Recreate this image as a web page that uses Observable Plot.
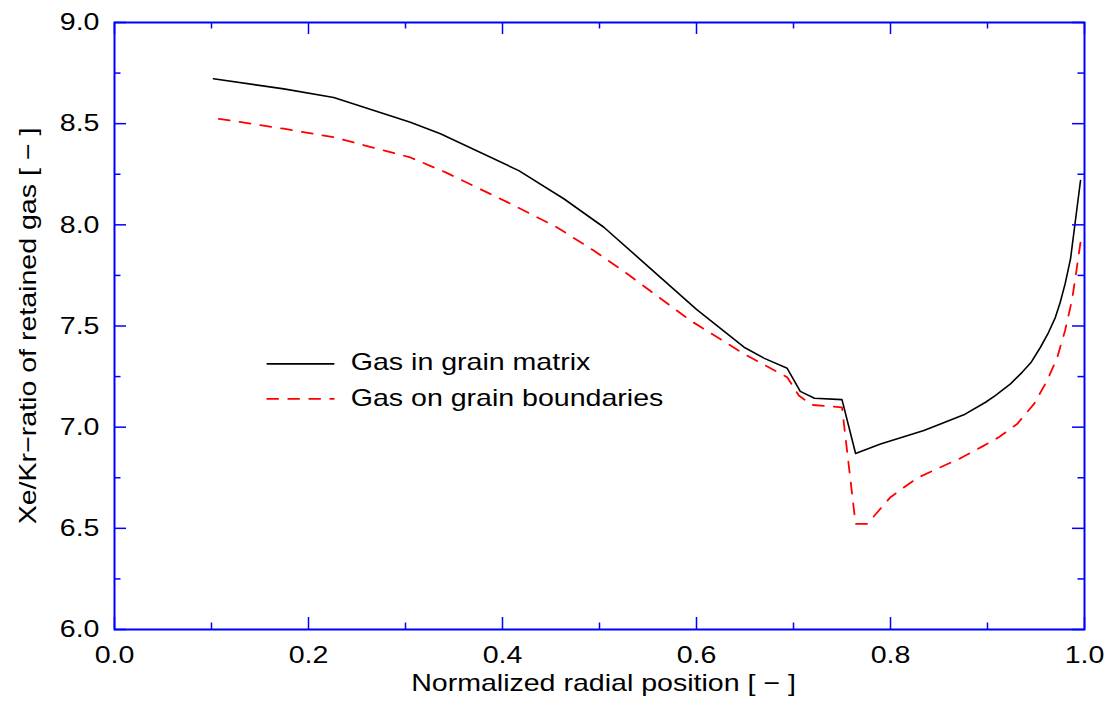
<!DOCTYPE html>
<html><head><meta charset="utf-8">
<script src="https://cdn.jsdelivr.net/npm/d3@7"></script>
<script src="https://cdn.jsdelivr.net/npm/@observablehq/plot@0.6"></script>
<style>html,body{margin:0;padding:0;background:#fff;} #chart{width:1111px;height:709px;}</style>
</head><body><div id="chart"></div>
<script>
// Data: gas in grain matrix (black solid)
const matrixX = [0.102, 0.1745, 0.226, 0.305, 0.336, 0.4168, 0.4632, 0.5045, 0.55, 0.60, 0.649, 0.67, 0.6935, 0.707, 0.7216, 0.750, 0.764, 0.7897, 0.8344, 0.8515, 0.8756, 0.898, 0.908, 0.9237, 0.9357, 0.9446, 0.9546, 0.963, 0.970, 0.975, 0.980, 0.9856, 0.9959];
const matrixY = [8.722, 8.672, 8.629, 8.507, 8.450, 8.268, 8.129, 7.988, 7.795, 7.582, 7.395, 7.340, 7.291, 7.177, 7.143, 7.136, 6.870, 6.917, 6.983, 7.016, 7.061, 7.123, 7.156, 7.214, 7.271, 7.318, 7.395, 7.469, 7.543, 7.617, 7.708, 7.832, 8.219];
// Data: gas on grain boundaries (red dashed)
const boundaryX = [0.1075, 0.1745, 0.226, 0.305, 0.342, 0.405, 0.456, 0.494, 0.5285, 0.5938, 0.649, 0.6935, 0.7055, 0.719, 0.750, 0.764, 0.776, 0.800, 0.8103, 0.8275, 0.8515, 0.872, 0.893, 0.9116, 0.9306, 0.948, 0.9615, 0.972, 0.980, 0.987, 0.9907, 0.9959];
const boundaryY = [8.524, 8.475, 8.433, 8.333, 8.258, 8.112, 7.988, 7.873, 7.758, 7.527, 7.362, 7.247, 7.156, 7.110, 7.098, 6.522, 6.522, 6.654, 6.690, 6.749, 6.802, 6.846, 6.900, 6.950, 7.016, 7.115, 7.230, 7.346, 7.478, 7.626, 7.741, 7.914];

const xMajorTicks = [0, 0.2, 0.4, 0.6, 0.8, 1.0];
const xMinorTicks = [0.1, 0.3, 0.5, 0.7, 0.9];
const yMajorTicks = [6, 6.5, 7, 7.5, 8, 8.5, 9];
const yMinorTicks = [6.25, 6.75, 7.25, 7.75, 8.25, 8.75];
const seriesNames = ["Gas in grain matrix", "Gas on grain boundaries"];
const xLabel = "Normalized radial position [ − ]";
const yLabel = "Xe/Kr−ratio of retained gas [ − ]";

// Layout
const W = 1111, H = 709, mL = 114, mR = 27, mT = 22, mB = 80;
const plotW = W - mL - mR, plotH = H - mT - mB;
const BLUE = "#0000ff";
const majorLen = 12, minorLen = 6.5;
const textStretch = 1.19;

const matrix = matrixX.map((x, i) => ({x, y: matrixY[i]}));
const boundary = boundaryX.map((x, i) => ({x, y: boundaryY[i]}));

// Legend placement (in data units)
const legendLineX = [0.1574, 0.2261];
const legendTextX = 0.2436;
const legendRowY = [7.313, 7.140];
const legendTextY = [7.322, 7.144];
const legendStyles = [{stroke: "black", dash: null, width: 1.6}, {stroke: "red", dash: "11,10", width: 1.8}];

const marks = [];
// series
marks.push(Plot.line(matrix, {x: "x", y: "y", stroke: "black", strokeWidth: 1.6}));
marks.push(Plot.line(boundary, {x: "x", y: "y", stroke: "red", strokeWidth: 1.8, strokeDasharray: "11,10"}));
// legend
seriesNames.forEach((name, i) => {
  const st = legendStyles[i];
  marks.push(Plot.line(legendLineX.map(x => ({x, y: legendRowY[i]})), {x: "x", y: "y", stroke: st.stroke, strokeWidth: st.width, strokeDasharray: st.dash}));
  marks.push(Plot.text([name], {x: () => legendTextX, y: () => legendTextY[i], text: d => d, textAnchor: "start", lineAnchor: "middle", fill: "black"}));
});
// inward ticks on all four sides
const tickStyle = {stroke: BLUE, strokeWidth: 1.5};
marks.push(Plot.ruleX(xMajorTicks, {x: d => d, insetTop: plotH - majorLen, ...tickStyle}));
marks.push(Plot.ruleX(xMinorTicks, {x: d => d, insetTop: plotH - minorLen, ...tickStyle}));
marks.push(Plot.ruleX(xMajorTicks, {x: d => d, insetBottom: plotH - majorLen, ...tickStyle}));
marks.push(Plot.ruleX(xMinorTicks, {x: d => d, insetBottom: plotH - minorLen, ...tickStyle}));
marks.push(Plot.ruleY(yMajorTicks, {y: d => d, insetRight: plotW - majorLen, ...tickStyle}));
marks.push(Plot.ruleY(yMinorTicks, {y: d => d, insetRight: plotW - minorLen, ...tickStyle}));
marks.push(Plot.ruleY(yMajorTicks, {y: d => d, insetLeft: plotW - majorLen, ...tickStyle}));
marks.push(Plot.ruleY(yMinorTicks, {y: d => d, insetLeft: plotW - minorLen, ...tickStyle}));
// frame
marks.push(Plot.frame({stroke: BLUE, strokeWidth: 2}));
// tick labels
marks.push(Plot.axisX(xMajorTicks, {anchor: "bottom", tickSize: 0, tickPadding: 16, tickFormat: d3.format(".1f"), label: null, fill: "black"}));
marks.push(Plot.axisY(yMajorTicks, {anchor: "left", tickSize: 0, tickPadding: 15, tickFormat: d3.format(".1f"), label: null, fill: "black"}));
// axis titles
marks.push(Plot.text([xLabel], {frameAnchor: "bottom", text: d => d, dy: 61, dx: 4, textAnchor: "middle", lineAnchor: "bottom", fill: "black"}));
marks.push(Plot.text([yLabel], {frameAnchor: "left", text: d => d, dx: -79, rotate: -90, textAnchor: "middle", lineAnchor: "bottom", fill: "black"}));

const svg = Plot.plot({
  width: W, height: H,
  marginLeft: mL, marginRight: mR, marginTop: mT, marginBottom: mB,
  x: {domain: [0, 1]},
  y: {domain: [6, 9]},
  style: {fontFamily: "'Liberation Sans', Arial, sans-serif", fontSize: "24px", background: "white", color: "black"},
  marks
});

// The reference font is rendered slightly wider than Arial: stretch text along its reading direction
d3.select(svg).selectAll("text").each(function () {
  const t = this.getAttribute("transform") || "";
  this.setAttribute("transform", (t + ` scale(${textStretch},1)`).trim());
});

document.getElementById("chart").appendChild(svg);
</script>
</body></html>
